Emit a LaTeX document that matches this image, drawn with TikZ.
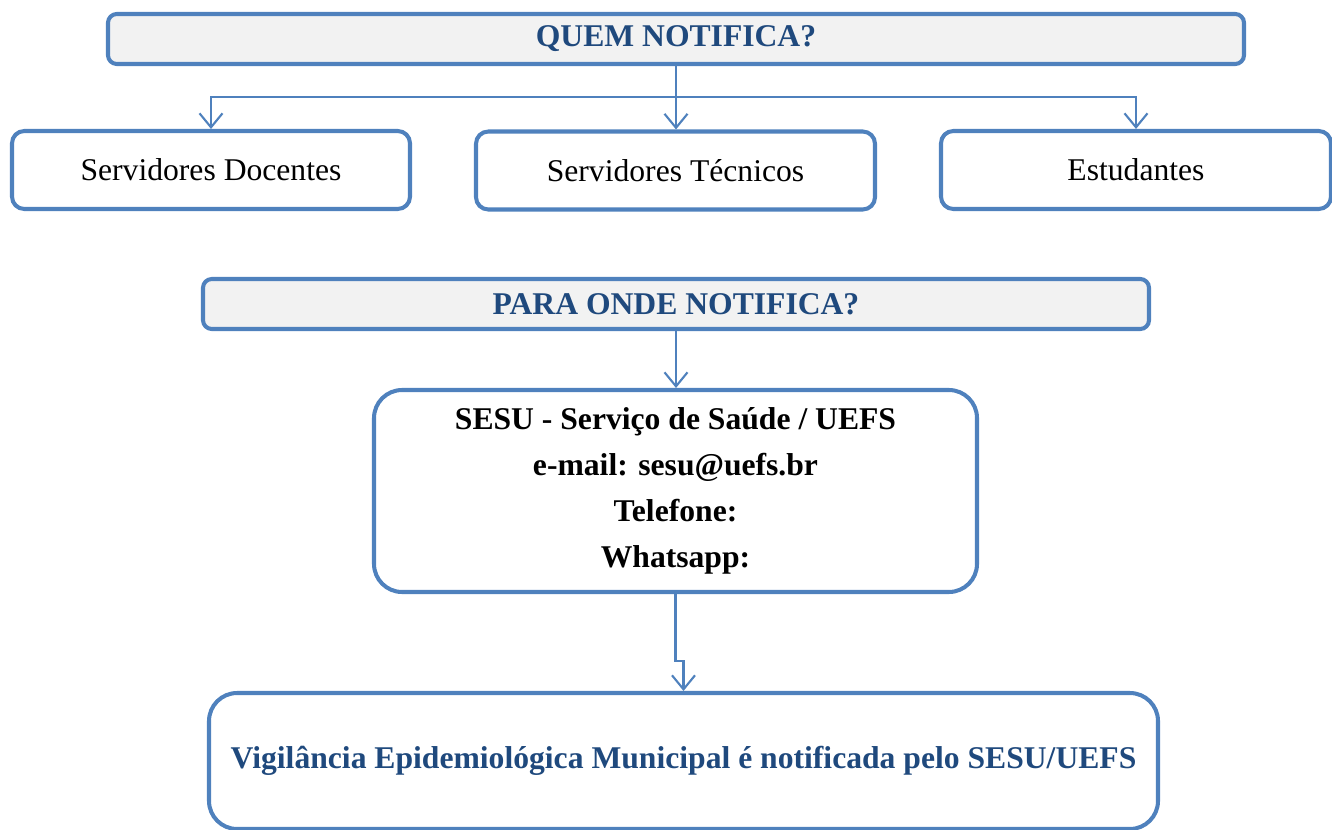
\documentclass[tikz,border=0pt]{standalone}
\usepackage{fontspec}
\setmainfont{Liberation Serif}
\usetikzlibrary{positioning, arrows.meta}
\definecolor{boxblue}{HTML}{4F81BD}
\definecolor{txtblue}{HTML}{1F497D}
\definecolor{hdrgray}{HTML}{F2F2F2}
\tikzset{
  hdr/.style={draw=boxblue, line width=2.3pt, fill=hdrgray, rounded corners=5pt, text=txtblue, font=\fontsize{18}{22}\selectfont\bfseries, minimum height=1.0cm},
  item/.style={draw=boxblue, line width=2.3pt, rounded corners=7pt, font=\fontsize{18}{22}\selectfont, minimum height=1.56cm},
  conn/.style={draw=boxblue, line width=1.2pt}
}

\begin{document}
\begin{tikzpicture}[>={Straight Barb[length=0.28cm,width=0.46cm]}]
		\useasboundingbox (0,0) rectangle (26.64,-16.6);

		% nodes - who notifies %
		\node[hdr, minimum width=22.72cm] (quem) at (13.52,-0.78) {QUEM NOTIFICA?};
		\node[item, minimum width=7.96cm] (doc) at (4.22,-3.40) {Servidores Docentes};
		\node[item, minimum width=7.98cm] (tec) at (13.51,-3.41) {Servidores Técnicos};
		\node[item, minimum width=7.80cm] (est) at (22.72,-3.40) {Estudantes};
		\coordinate (bar) at (13.52,-1.94);

		% nodes - where to notify %
		\node[hdr, minimum width=18.92cm] (para) at (13.52,-6.08) {PARA ONDE NOTIFICA?};
		\node[item, rounded corners=16pt, minimum width=12.06cm, minimum height=4.04cm, align=center, font=\fontsize{18}{26.2}\selectfont\bfseries] (sesu) at (13.51,-9.82)
			{SESU - Serviço de Saúde / UEFS\\ e-mail: sesu@uefs.br\\ Telefone:\\ Whatsapp:};
		\node[item, rounded corners=16pt, minimum width=18.98cm, minimum height=2.72cm, text=txtblue, font=\fontsize{18}{22}\selectfont\bfseries] (vig) at (13.67,-15.22)
			{Vigilância Epidemiológica Municipal é notificada pelo SESU/UEFS};

		% edges %
		\draw[conn, ->] (quem.south) -- (quem.south |- tec.north);
		\draw[conn, ->] (bar) -| (doc.north);
		\draw[conn, ->] (bar) -| (est.north);
		\draw[conn, ->] (para.south) -- (para.south |- sesu.north);
		\draw[conn, ->] (sesu.south) -- ++(0,-1.34) -| (vig.north);
		\end{tikzpicture}
\end{document}
